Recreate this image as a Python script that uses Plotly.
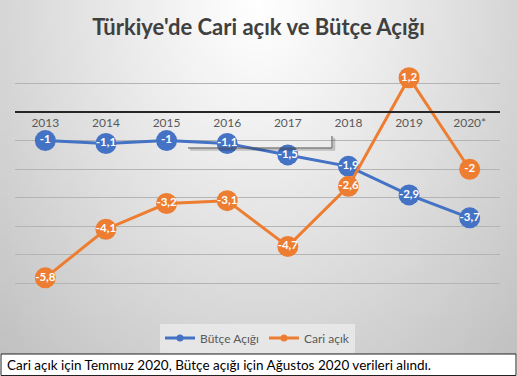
import zlib, struct, base64, math
import plotly.graph_objects as go

years = ["2013", "2014", "2015", "2016", "2017", "2018", "2019", "2020*"]
butce_acigi = [-1, -1.1, -1, -1.1, -1.5, -1.9, -2.9, -3.7]
cari_acik = [-5.8, -4.1, -3.2, -3.1, -4.7, -2.6, 1.2, -2]

BLUE = "#4472C4"
ORANGE = "#ED7D31"
FONT = "Lato"

W, H = 517, 376
ML, MR, MT, MB = 15, 17, 54, 63
PW, PH = W - ML - MR, H - MT - MB
YMIN, YMAX = -7.03, 2.03


def px_x(p):
    return (p - ML) / PW


def px_y(p):
    return (H - MB - p) / PH


def fmt(v):
    return ("%g" % v).replace(".", ",")


def png_uri(w, h):
    rows = []
    for j in range(h):
        row = bytearray([0])
        for i in range(w):
            dx = (i / (w - 1) - 0.5) / 0.5
            dy = j / (h - 1)
            d = math.sqrt(dx * dx * 0.9 + dy * dy) / math.sqrt(1.9)
            c = int(round(255 - 62 * min(d, 1.0) ** 1.1))
            row.append(max(0, min(255, c)))
        rows.append(bytes(row))
    raw = b"".join(rows)

    def chunk(t, data):
        return struct.pack(">I", len(data)) + t + data + struct.pack(">I", zlib.crc32(t + data) & 0xffffffff)

    png = b"\x89PNG\r\n\x1a\n"
    png += chunk(b"IHDR", struct.pack(">IIBBBBB", w, h, 8, 0, 0, 0, 0))
    png += chunk(b"IDAT", zlib.compress(raw, 9))
    png += chunk(b"IEND", b"")
    return "data:image/png;base64," + base64.b64encode(png).decode()


fig = go.Figure()

fig.add_trace(go.Scatter(
    x=years, y=butce_acigi, mode="lines+markers+text", name="Bütçe Açığı",
    line=dict(color=BLUE, width=3), marker=dict(size=21, color=BLUE),
    text=[fmt(v) for v in butce_acigi], textposition="middle center",
    textfont=dict(color="white", size=11.5, family=FONT, weight="bold"),
    showlegend=False, cliponaxis=False,
))
fig.add_trace(go.Scatter(
    x=years, y=cari_acik, mode="lines+markers+text", name="Cari açık",
    line=dict(color=ORANGE, width=3), marker=dict(size=21, color=ORANGE),
    text=[fmt(v) for v in cari_acik], textposition="middle center",
    textfont=dict(color="white", size=11.5, family=FONT, weight="bold"),
    showlegend=False, cliponaxis=False,
))
# legend entries
fig.add_trace(go.Scatter(x=[None], y=[None], mode="lines+markers", name="Bütçe Açığı",
                         line=dict(color=BLUE, width=3), marker=dict(size=7, color=BLUE)))
fig.add_trace(go.Scatter(x=[None], y=[None], mode="lines+markers", name="Cari açık",
                         line=dict(color=ORANGE, width=3), marker=dict(size=7, color=ORANGE)))

shapes = [
    # caption box
    dict(type="rect", xref="paper", yref="paper",
         x0=px_x(1), x1=px_x(516), y0=px_y(375.5), y1=px_y(354),
         fillcolor="white", line=dict(color="#222222", width=1), layer="above"),
    # stray callout line artifact (shadow + line)
    dict(type="path", xref="paper", yref="paper",
         path="M %f %f L %f %f L %f %f" % (px_x(190), px_y(149.5), px_x(334), px_y(149.5), px_x(334), px_y(138)),
         line=dict(color="rgba(0,0,0,0.18)", width=2.5), layer="above"),
    dict(type="path", xref="paper", yref="paper",
         path="M %f %f L %f %f L %f %f" % (px_x(188), px_y(148), px_x(332), px_y(148), px_x(332), px_y(136)),
         line=dict(color="#555555", width=1), layer="above"),
]

fig.update_layout(
    width=W, height=H,
    margin=dict(l=ML, r=MR, t=MT, b=MB, autoexpand=False),
    paper_bgcolor="white",
    plot_bgcolor="rgba(0,0,0,0)",
    font=dict(family=FONT, color="#595959"),
    title=dict(text="<b>Türkiye'de Cari açık ve Bütçe Açığı</b>",
               x=0.5, xanchor="center", y=1 - 27 / H, yanchor="middle",
               font=dict(size=22, color="#404040", family=FONT)),
    images=[dict(source=png_uri(104, 72), xref="paper", yref="paper",
                 x=px_x(0), y=px_y(0), sizex=W / PW, sizey=354 / PH,
                 xanchor="left", yanchor="top", sizing="stretch", layer="below")],
    shapes=shapes,
    showlegend=True,
    legend=dict(orientation="h", x=0.5, xanchor="center", yref="container", y=1 - 338 / H, yanchor="middle",
                bgcolor="rgba(236,236,236,0.75)", font=dict(size=12, color="#595959", family=FONT),
                itemwidth=30, tracegroupgap=0),
    annotations=[dict(text="Cari açık için Temmuz 2020, Bütçe açığı için Ağustos 2020 verileri alındı.",
                      xref="paper", yref="paper", x=px_x(5), y=px_y(365), xanchor="left", yanchor="middle",
                      showarrow=False, font=dict(size=13.5, color="black", family=FONT))],
)

fig.update_xaxes(
    type="category", range=[-0.5, len(years) - 0.5], showgrid=False, anchor="free",
    position=(0 - YMIN) / (YMAX - YMIN),
    showline=True, linecolor="#262626", linewidth=2, ticks="",
    tickfont=dict(size=12, color="#595959", family=FONT), zeroline=False,
)
fig.update_yaxes(
    range=[YMIN, YMAX], dtick=1, tick0=0, showgrid=True, gridcolor="#b4b4b4", gridwidth=1,
    showticklabels=False, zeroline=False, showline=False, ticks="",
)

fig.write_html("out.html", config={"displayModeBar": False},
               post_script="document.body.style.margin='0';document.body.style.overflow='hidden';")
